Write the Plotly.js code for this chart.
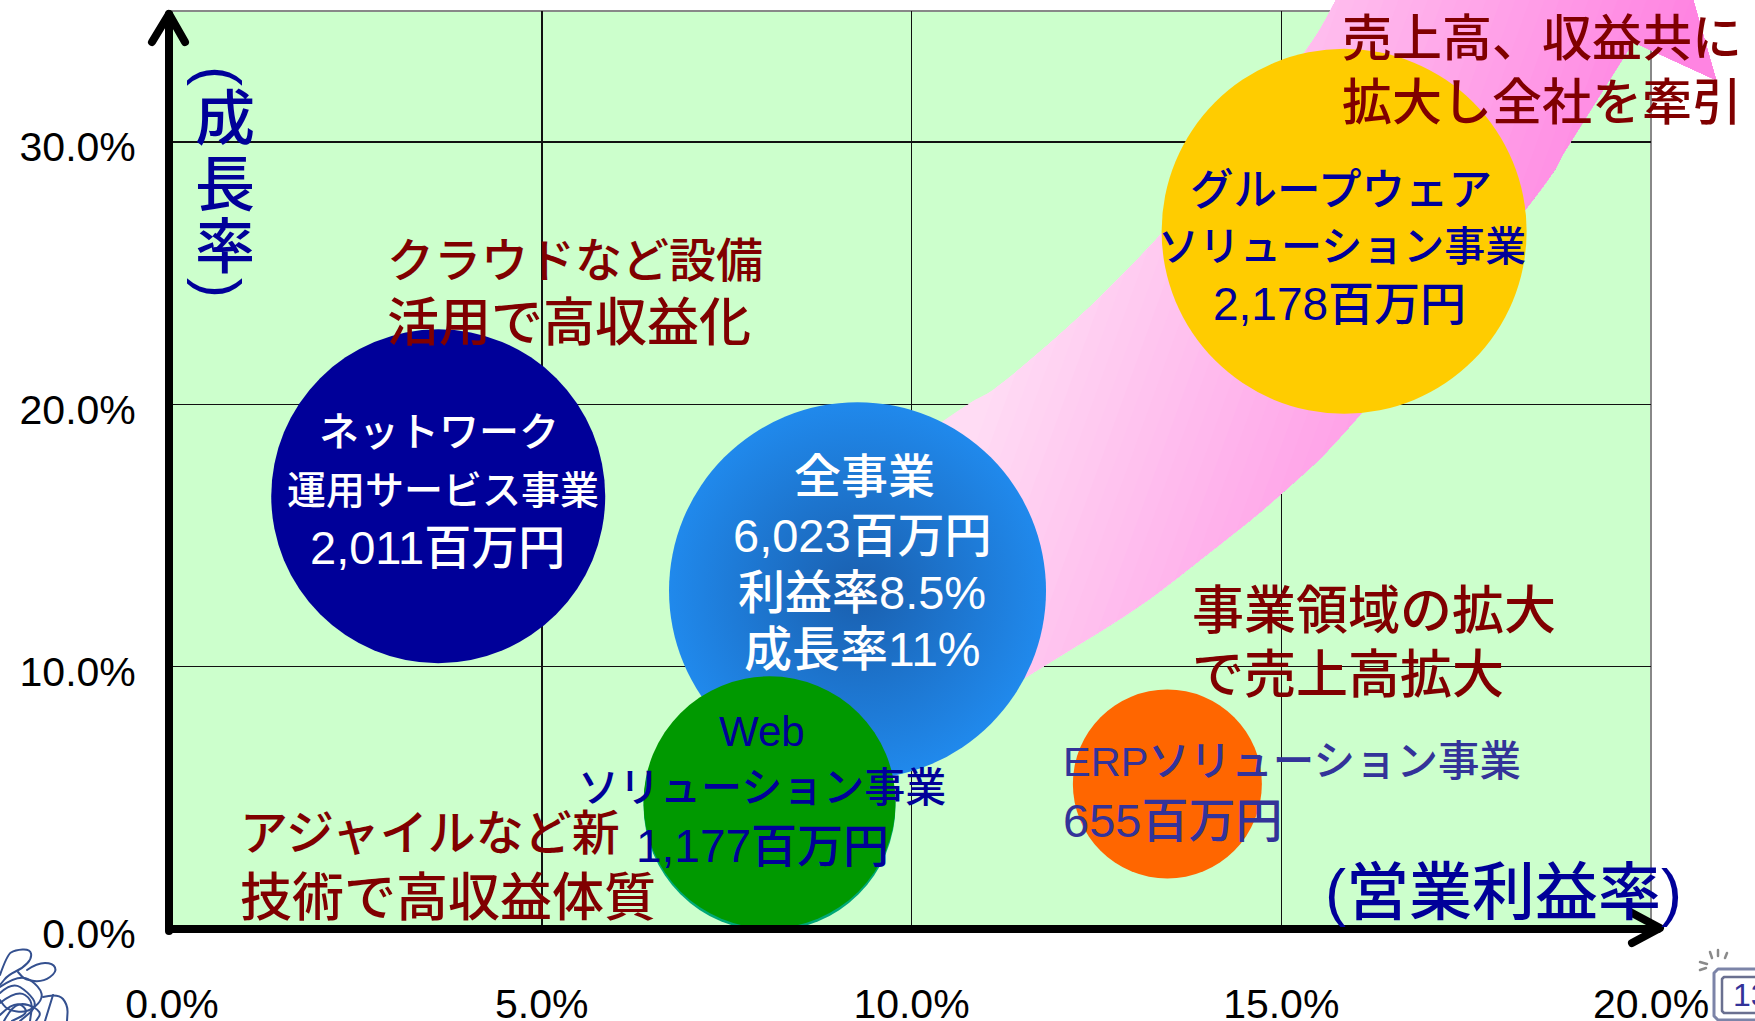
<!DOCTYPE html>
<html><head><meta charset="utf-8">
<script src="https://cdn.plot.ly/plotly-3.0.1.min.js"></script>
<style>html,body{margin:0;padding:0;background:#fff;overflow:hidden}</style>
</head><body><div id="chart" style="width:1755px;height:1021px"></div>
<script>
// ---- data ----
const bubbleNames = ['ネットワーク運用サービス事業','全事業','Web影','Webソリューション事業','ERPソリューション事業','グループウェアソリューション事業'];
const bubbleMargin = [3.6, 9.27, 8.08, 8.08, 13.46, 15.85];
const bubbleGrowth = [16.5, 12.9, 4.72, 4.83, 5.53, 26.6];
const bubbleDiameter = [334, 377, 252, 252, 189, 365];
const bubbleColor = ['#000099','#2089EC','#00A878','#009900','#FF6600','#FFCC00'];
const bubbleGradient = ['none','radial','none','none','none','none'];
const bubbleGradientColor = ['#000099','#1A5FAE','#00A878','#009900','#FF6600','#FFCC00'];

// outline of the pink arrow
const bandUpperX = [10.25,10.76,11.28,12.55,13.90,15.32,15.74];
const bandUpperY = [19.02,20.0,20.93,24.09,28.17,33.43,35.42];
const bandTipX = [20.57,20.88];
const bandTipY = [35.42,32.37];
const bandLowerX = [19.76,18.90,18.40,16.06,15.01,13.90,13.0,11.74,11.2];
const bandLowerY = [33.82,30.0,27.79,19.6,16.62,14.07,12.16,9.95,9.0];

const xTicks = [0,5,10,15,20];
const xTickLabels = ['0.0%','5.0%','10.0%','15.0%','20.0%'];
const yTicks = [0,10,20,30];
const yTickLabels = ['0.0%','10.0%','20.0%','30.0%'];

// [text, x(px), y(px), size, colour, anchor]
const MAROON='#800000', NAVY='#000099', ERP='#333399', WHITE='#FFFFFF';
const textLines = [
 ['売上高、収益共に',1340,39,50,MAROON,'left'],
 ['拡大し全社を牽引',1340,103,50,MAROON,'left'],
 ['クラウドなど設備',385,260,47,MAROON,'left'],
 ['活用で高収益化',385,323,52,MAROON,'left'],
 ['事業領域の拡大',1190,611,52,MAROON,'left'],
 ['で売上高拡大',1190,675,52,MAROON,'left'],
 ['アジャイルなど新',238,833,48,MAROON,'left'],
 ['技術で高収益体質',238,898,52,MAROON,'left'],
 ['グループウェア',1341,190,43.5,NAVY,'center'],
 ['ソリューション事業',1342,247,41,NAVY,'center'],
 ['2,178百万円',1339,304,46,NAVY,'center'],
 ['ネットワーク',439,432,40,WHITE,'center'],
 ['運用サービス事業',443,490,39,WHITE,'center'],
 ['2,011百万円',437,547,47,WHITE,'center'],
 ['全事業',864,476,47,WHITE,'center'],
 ['6,023百万円',862,535,47,WHITE,'center'],
 ['利益率8.5%',862,592,47,WHITE,'center'],
 ['成長率11%',862,649,48,WHITE,'center'],
 ['Web',762,731,42,NAVY,'center'],
 ['ソリューション事業',762,788,41,NAVY,'center'],
 ['1,177百万円',762,846,46,NAVY,'center'],
 ['ERPソリューション事業',1061,761,41.5,ERP,'left'],
 ['655百万円',1061,820,47,ERP,'left'],
 ['(営業利益率)',1323,892,63,NAVY,'left'],
 ['成',225,120,60,NAVY,'center'],
 ['長',225,185,60,NAVY,'center'],
 ['率',225,248,60,NAVY,'center']
];

// ---- layout helpers ----
const L=172,R=1651,T=11,B=929;
const px=x=>(x-L)/(R-L), py=y=>(B-y)/(B-T);
const dx=x=>x/20, dy=y=>y/35;
const FONT='"Liberation Sans","Noto Sans CJK JP",sans-serif';

const annotations = textLines.map(t=>({text:t[0],xref:'paper',yref:'paper',x:px(t[1]),y:py(t[2]),
  xanchor:t[5],yanchor:'middle',showarrow:false,font:{family:FONT,size:t[3],color:t[4],weight:500}}));
annotations.push({text:'(',xref:'paper',yref:'paper',x:px(220),y:py(76),textangle:90,xanchor:'center',yanchor:'middle',showarrow:false,font:{family:FONT,size:60,color:NAVY}});
annotations.push({text:')',xref:'paper',yref:'paper',x:px(220),y:py(288),textangle:90,xanchor:'center',yanchor:'middle',showarrow:false,font:{family:FONT,size:60,color:NAVY}});
annotations.push({text:'13',xref:'paper',yref:'paper',x:px(1731),y:py(995),xanchor:'left',yanchor:'middle',showarrow:false,font:{family:FONT,size:32,color:ERP}});

function pathOf(pts,close){return pts.map((p,i)=>(i?'L':'M')+px(p[0])+','+py(p[1])).join(' ')+(close?' Z':'');}
function loopOf(pts){
  let d='M'+px(pts[0][0])+','+py(pts[0][1]);
  for(let i=1;i<pts.length-1;i++){
    const mx=(pts[i][0]+pts[i+1][0])/2,my=(pts[i][1]+pts[i+1][1])/2;
    d+=' Q'+px(pts[i][0])+','+py(pts[i][1])+' '+px(mx)+','+py(my);
  }
  const e=pts[pts.length-1];
  return d+' L'+px(e[0])+','+py(e[1]);
}
const paperShape=(path,color,width)=>({type:'path',xref:'paper',yref:'paper',path,layer:'above',line:{color,width}});

// plot border lies under the pink arrow
const shapes=[
  {type:'path',xref:'paper',yref:'paper',layer:'below',line:{color:'#888',width:2},path:pathOf([[172,11],[1651,11],[1651,929]])}
];

// ---- pink arrow: overlapping gradient steps, curved edges smoothed ----
function smooth(xs,ys){
  const ox=[],oy=[],n=xs.length;
  for(let i=0;i<n-1;i++){
    const a=Math.max(i-1,0),b=i,c=i+1,d=Math.min(i+2,n-1);
    for(let k=0;k<8;k++){
      const t=k/8,t2=t*t,t3=t2*t;
      const f=(p)=>0.5*(2*p[b]+(-p[a]+p[c])*t+(2*p[a]-5*p[b]+4*p[c]-p[d])*t2+(-p[a]+3*p[b]-3*p[c]+p[d])*t3);
      ox.push(f(xs));oy.push(f(ys));
    }
  }
  ox.push(xs[n-1]);oy.push(ys[n-1]);
  return [ox,oy];
}
const up=smooth(bandUpperX,bandUpperY), lo=smooth(bandLowerX,bandLowerY);
const bandX=[...up[0],...bandTipX,...lo[0]], bandY=[...up[1],...bandTipY,...lo[1]];
function clipBand(u0){
  const f=(x,y)=>x-0.128*y-u0; const ox=[],oy=[]; const n=bandX.length;
  for(let i=0;i<n;i++){
    const j=(i+1)%n, a=f(bandX[i],bandY[i]), b=f(bandX[j],bandY[j]);
    if(a>=0){ox.push(bandX[i]);oy.push(bandY[i]);}
    if((a>=0)!==(b>=0)){const t=a/(a-b);ox.push(bandX[i]+t*(bandX[j]-bandX[i]));oy.push(bandY[i]+t*(bandY[j]-bandY[i]));}
  }
  return [ox,oy];
}
const bandTraces=[]; const steps=40;
for(let s=0;s<steps;s++){
  const t=s/(steps-1), u=s===0?-100:8.3+t*7.7, [ox,oy]=clipBand(u);
  if(ox.length<3)continue;
  const g=Math.round(220-t*(220-132)), b=Math.round(244-t*(244-226)), col=`rgb(255,${g},${b})`;
  bandTraces.push({type:'scatter',mode:'lines',x:[...ox,ox[0]],y:[...oy,oy[0]],fill:'toself',fillcolor:col,line:{width:0},cliponaxis:false,hoverinfo:'skip',showlegend:false});
  shapes.push({type:'path',xref:'paper',yref:'paper',layer:'below',fillcolor:col,line:{width:0},
    path:ox.map((v,i)=>(i?'L':'M')+dx(v)+','+dy(oy[i])).join(' ')+' Z'});
}

// thick axes, scribble and page-number icon
shapes.push(paperShape(pathOf([[169,931],[169,14]]),'#000',8));
shapes.push(paperShape(pathOf([[152,42],[169,14],[185,42]]),'#000',8));
shapes.push(paperShape(pathOf([[169,929],[1658,929]]),'#000',8));
shapes.push(paperShape(pathOf([[1632,913],[1660,928],[1632,943]]),'#000',8));
const scrib=[
 [[0,975],[7,955],[15,950],[30,949],[32,958],[23,968],[8,975],[0,985]],
 [[27,970],[37,963],[53,963],[57,972],[43,982],[25,980],[18,972]],
 [[43,997],[58,993],[68,1005],[67,1021]],
 [[0,987],[20,973],[40,987],[43,1000],[27,1013],[7,1010],[0,1000]],
 [[0,1003],[17,990],[33,1000],[30,1021]],
 [[0,1015],[15,1000],[30,1012],[12,1021]],
 [[0,993],[12,982],[28,992],[38,1006],[20,1021]],
 [[4,1021],[12,1006],[26,1003],[42,1012],[36,1021]],
 [[53,995],[45,1021]]
];
scrib.forEach(p=>shapes.push(paperShape(loopOf(p),'#34508F',2)));
shapes.push(paperShape(pathOf([[1757,969],[1718,969],[1714,973],[1714,1016],[1718,1020],[1757,1020]]),'#7C84A8',3));
shapes.push(paperShape(pathOf([[1757,977],[1724,977],[1722,979],[1722,1011],[1724,1013],[1757,1013]]),'#6A7090',2.5));
[[[1700,970],[1706,968]],[[1700,962],[1707,964]],[[1710,952],[1712,958]],[[1718,950],[1718,956]],[[1727,953],[1725,958]]]
  .forEach(p=>shapes.push(paperShape(pathOf(p),'#8A8A8A',2.5)));

const bubbles={type:'scatter',mode:'markers',x:bubbleMargin,y:bubbleGrowth,text:bubbleNames,cliponaxis:false,hoverinfo:'skip',showlegend:false,
  marker:{size:bubbleDiameter,sizemode:'diameter',sizeref:1,color:bubbleColor,opacity:1,line:{width:0},gradient:{type:bubbleGradient,color:bubbleGradientColor}}};

const tickFont={family:FONT,size:41,color:'#000'};
const layout={width:1755,height:1021,autosize:false,margin:{l:L,r:1755-R,t:T,b:1021-B,pad:0},
  paper_bgcolor:'#fff',plot_bgcolor:'#CCFFCC',showlegend:false,hovermode:false,
  xaxis:{range:[0,20],tickmode:'array',tickvals:xTicks,ticktext:xTickLabels,tickfont:tickFont,ticks:'outside',ticklen:39,tickcolor:'rgba(0,0,0,0)',
    showgrid:true,gridcolor:'#111',gridwidth:1.5,zeroline:false,showline:false,fixedrange:true},
  yaxis:{range:[0,35],tickmode:'array',tickvals:yTicks,ticktext:yTickLabels,tickfont:tickFont,ticks:'outside',ticklen:27,tickcolor:'rgba(0,0,0,0)',ticklabelshift:5,
    showgrid:true,gridcolor:'#111',gridwidth:1.5,zeroline:false,showline:false,fixedrange:true},
  annotations,shapes};

Plotly.newPlot('chart',[...bandTraces,bubbles],layout,{displayModeBar:false,staticPlot:true}).then(()=>{
  document.querySelectorAll('.shapelayer path').forEach(p=>{p.style.strokeLinecap='round';p.style.strokeLinejoin='round';});
});
</script></body></html>
